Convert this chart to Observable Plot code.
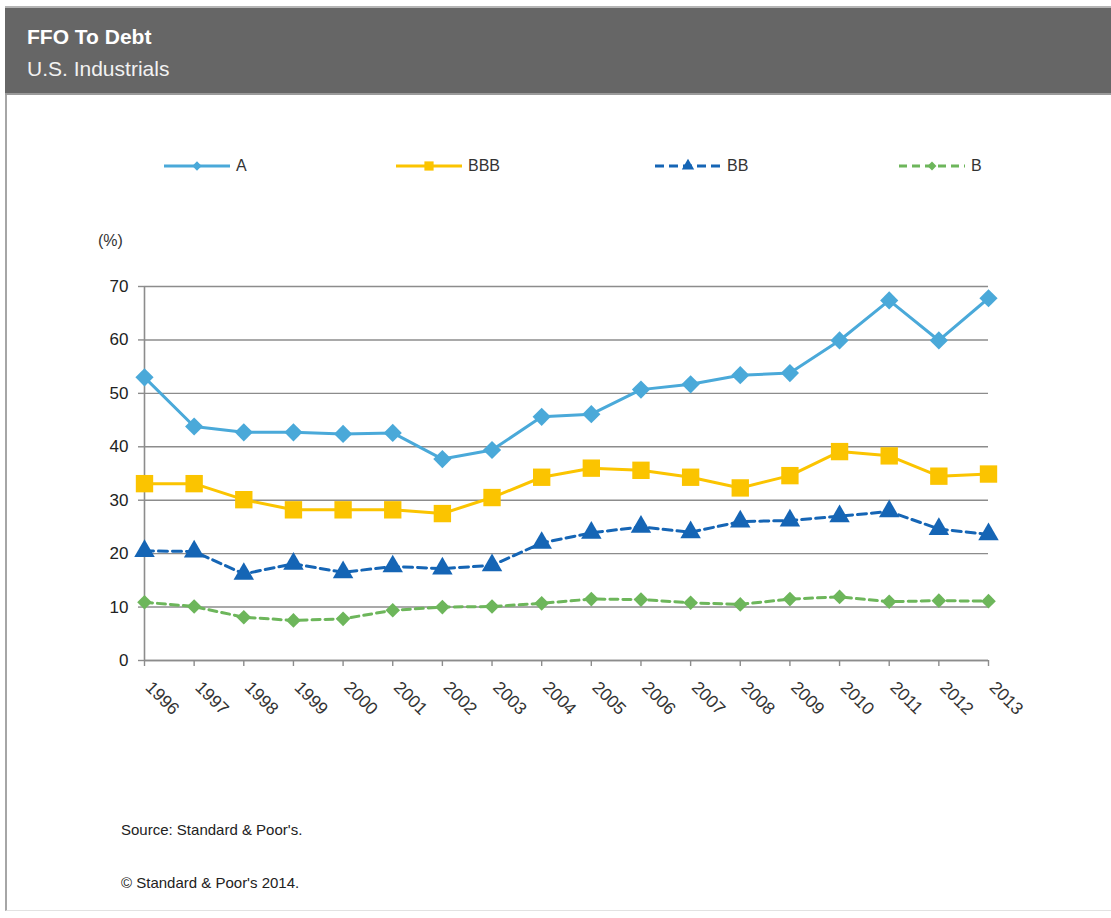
<!DOCTYPE html>
<html>
<head>
<meta charset="utf-8">
<script src="https://cdn.jsdelivr.net/npm/d3@7"></script>
<script src="https://cdn.jsdelivr.net/npm/@observablehq/plot@0.6"></script>
<style>
  html, body { margin: 0; padding: 0; background: #fff; }
  body { width: 1111px; height: 918px; position: relative; overflow: hidden;
         font-family: "Liberation Sans", Arial, sans-serif; }
  #frame { position: absolute; left: 5px; top: 7px; width: 1106px; height: 904px;
           border-left: 2px solid #a6a6a6; border-bottom: 1px solid #e2e2e2; box-sizing: border-box; }
  #header { position: absolute; left: 5px; top: 6px; width: 1106px; height: 89px;
            background: #666666; border-top: 2px solid #b5b5b5; border-bottom: 2px solid #9a9a9a; box-sizing: border-box; }
  #title { position: absolute; left: 22px; top: 17px; color: #fff; font-weight: bold; font-size: 21px; }
  #subtitle { position: absolute; left: 22px; top: 49px; color: #f2f2f2; font-size: 21px; }
  .legend-item { position: absolute; top: 155px; display: flex; align-items: center; font-size: 16px; color: #333; }
  .legend-item svg { display: block; margin-right: 5px; }
  #unit { position: absolute; left: 98px; top: 232px; font-size: 16px; color: #333; }
  #chart { position: absolute; left: 0; top: 230px; }
  .foot { position: absolute; left: 121px; font-size: 15px; color: #222; }
</style>
</head>
<body>
<div id="frame"></div>
<div id="header"><div id="title">FFO To Debt</div><div id="subtitle">U.S. Industrials</div></div>
<div id="legend"></div>
<div id="unit">(%)</div>
<div id="chart"></div>
<div class="foot" style="top:821px">Source: Standard &amp; Poor's.</div>
<div class="foot" style="top:874px">© Standard &amp; Poor's 2014.</div>
<script>
// ---- data ----
const years = [1996, 1997, 1998, 1999, 2000, 2001, 2002, 2003, 2004, 2005, 2006, 2007, 2008, 2009, 2010, 2011, 2012, 2013];
const seriesNames = ["A", "BBB", "BB", "B"];
const valuesA   = [53.0, 43.8, 42.7, 42.7, 42.4, 42.6, 37.7, 39.4, 45.6, 46.1, 50.7, 51.7, 53.4, 53.8, 59.9, 67.4, 59.9, 67.8];
const valuesBBB = [33.1, 33.1, 30.1, 28.2, 28.2, 28.2, 27.5, 30.5, 34.3, 36.0, 35.6, 34.3, 32.3, 34.6, 39.1, 38.3, 34.5, 34.9];
const valuesBB  = [20.5, 20.4, 16.2, 18.1, 16.5, 17.6, 17.2, 17.8, 22.0, 23.9, 25.0, 24.0, 26.0, 26.2, 27.0, 27.9, 24.6, 23.6];
const valuesB   = [10.9, 10.1, 8.1, 7.5, 7.8, 9.4, 10.0, 10.1, 10.7, 11.5, 11.4, 10.8, 10.5, 11.5, 11.9, 11.0, 11.2, 11.1];
const yTicks = [0, 10, 20, 30, 40, 50, 60, 70];

// ---- styles ----
const styles = {
  A:   {color: "#4aa9d9", dash: null,  symbol: "diamond2", r: 8.2, lr: 4.2},
  BBB: {color: "#fbc400", dash: null,  symbol: "square",   r: 9.8, lr: 5.2},
  BB:  {color: "#1565b5", dash: "9,5", symbol: "triangle", r: 7.6, lr: 4.6},
  B:   {color: "#6db65b", dash: "8,5", symbol: "diamond2", r: 6.6, lr: 4.0}
};
const valuesBySeries = {A: valuesA, BBB: valuesBBB, BB: valuesBB, B: valuesB};
const data = seriesNames.flatMap(s => years.map((yr, i) => ({series: s, year: yr, value: valuesBySeries[s][i]})));

// ---- legend ----
const legendX = {A: 163, BBB: 395, BB: 654, B: 898};
const symbolMap = {diamond2: d3.symbolDiamond2, square: d3.symbolSquare, triangle: d3.symbolTriangle};
const legend = document.getElementById("legend");
for (const s of seriesNames) {
  const st = styles[s];
  const item = document.createElement("div");
  item.className = "legend-item";
  item.style.left = legendX[s] + "px";
  const svg = d3.create("svg").attr("width", 68).attr("height", 22);
  svg.append("line").attr("x1", 1).attr("x2", 67).attr("y1", 11).attr("y2", 11)
    .attr("stroke", st.color).attr("stroke-width", 3)
    .attr("stroke-dasharray", st.dash);
  svg.append("path").attr("transform", "translate(34,11)")
    .attr("d", d3.symbol(symbolMap[st.symbol], Math.PI * st.lr * st.lr)())
    .attr("fill", st.color);
  item.appendChild(svg.node());
  const label = document.createElement("span");
  label.textContent = s;
  item.appendChild(label);
  legend.appendChild(item);
}

// ---- chart ----
const marks = [
  Plot.gridY(yTicks, {stroke: "#8c8c8c", strokeOpacity: 1, strokeWidth: 1.4}),
  Plot.ruleX([1996], {stroke: "#8c8c8c", strokeWidth: 1.6}),
  Plot.ruleY([0], {stroke: "#8c8c8c", strokeWidth: 1.6}),
  Plot.axisY({ticks: yTicks, tickSize: 6, tickPadding: 10, stroke: "#8c8c8c", strokeWidth: 1.4,
              label: null, fill: "#222", fontSize: 17}),
  // tick marks only
  Plot.axisX({ticks: years, tickSize: 6, stroke: "#8c8c8c", strokeWidth: 1.4, fill: "none", label: null}),
  // rotated labels only, nudged right
  Plot.axisX({ticks: years, tickSize: 0, tickPadding: 24, tickRotate: 45, dx: 4,
              tickFormat: d => String(d), label: null, fill: "#333", fontSize: 17.5})
];
for (const s of seriesNames) {
  const st = styles[s];
  const rows = data.filter(d => d.series === s);
  marks.push(Plot.line(rows, {x: "year", y: "value", stroke: st.color, strokeWidth: 3,
                              strokeDasharray: st.dash, curve: "linear"}));
  marks.push(Plot.dot(rows, {x: "year", y: "value", symbol: () => st.symbol, fill: st.color,
                             stroke: "none", r: st.r}));
}

const chart = Plot.plot({
  width: 1111,
  height: 540,
  marginLeft: 144,
  marginRight: 123,
  marginTop: 56,
  marginBottom: 110,
  style: {fontFamily: "Liberation Sans, Arial, sans-serif", fontSize: "16px", background: "transparent", overflow: "visible"},
  x: {domain: [1996, 2013], label: null},
  y: {domain: [0, 70], label: null},
  symbol: {type: "identity"},
  marks
});
document.getElementById("chart").appendChild(chart);
</script>
</body>
</html>
